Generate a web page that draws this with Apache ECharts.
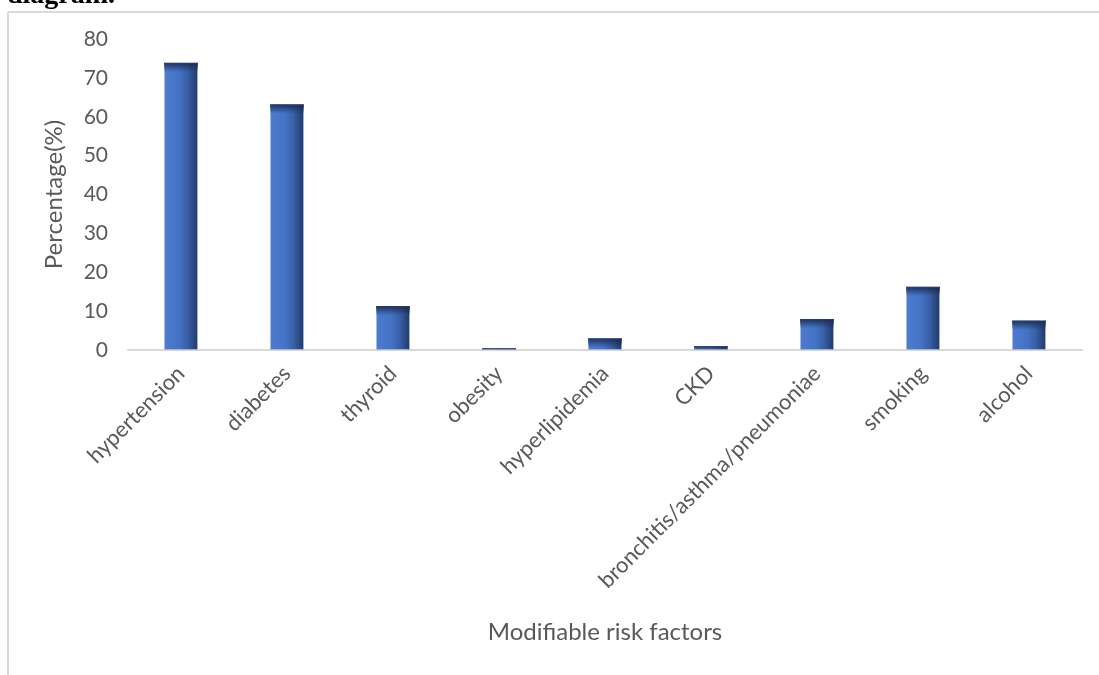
<!DOCTYPE html>
<html>
<head>
<meta charset="utf-8">
<script src="https://cdn.jsdelivr.net/npm/echarts@6/dist/echarts.min.js"></script>
<style>
  html, body { margin: 0; padding: 0; background: #fff; }
  #chart { width: 1099px; height: 675px; }
</style>
</head>
<body>
<div id="chart"></div>
<script>
// Modifiable risk factors and their prevalence (%)
const categories = ['hypertension', 'diabetes', 'thyroid', 'obesity', 'hyperlipidemia', 'CKD',
  'bronchitis/asthma/pneumoniae', 'smoking', 'alcohol'];
const percentages = [73.9, 63.2, 11.3, 0.5, 3.0, 1.0, 8.0, 16.3, 7.6];
const yTicks = { min: 0, max: 80, interval: 10 };

const FONT = 'Lato, "Open Sans", sans-serif';
const TEXT = '#595959';
const FRAME = '#d9d9d9';

// Body of each bar: blue shading toward a dark right edge
const bodyFill = new echarts.graphic.LinearGradient(0, 0, 1, 0, [
  { offset: 0, color: '#4d7cce' },
  { offset: 0.45, color: '#4472c4' },
  { offset: 0.7, color: '#395fa6' },
  { offset: 0.88, color: '#2a4780' },
  { offset: 1, color: '#1f3864' }
]);

// Dark bevel along the top of each bar, a few units deep
function topShade(v) {
  const s = Math.min(1, 2.4 / v);
  return new echarts.graphic.LinearGradient(0, 0, 0, 1, [
    { offset: 0, color: 'rgba(24,42,82,0.92)' },
    { offset: s, color: 'rgba(24,42,82,0)' },
    { offset: 1, color: 'rgba(24,42,82,0)' }
  ]);
}

const chart = echarts.init(document.getElementById('chart'), null, { renderer: 'canvas' });
chart.setOption({
  animation: false,
  backgroundColor: '#ffffff',
  graphic: [
    // document heading above the figure
    { type: 'text', left: 7, top: -18,
      style: { text: 'diagram.', font: 'bold 28px "Liberation Serif", "DejaVu Serif", serif', fill: '#000' } },
    // figure frame
    { type: 'line', shape: { x1: 8, y1: 12, x2: 1099, y2: 12 }, style: { stroke: FRAME, lineWidth: 2 } },
    { type: 'line', shape: { x1: 8, y1: 12, x2: 8, y2: 675 }, style: { stroke: FRAME, lineWidth: 2 } }
  ],
  grid: { left: 128, right: 17, top: 39, bottom: 325, containLabel: false },
  xAxis: {
    type: 'category',
    data: categories,
    name: 'Modifiable risk factors',
    nameLocation: 'middle',
    nameGap: 270,
    nameTextStyle: { color: TEXT, fontSize: 24, fontFamily: FONT },
    axisLine: { lineStyle: { color: FRAME, width: 2 } },
    axisTick: { show: false },
    axisLabel: { interval: 0, rotate: 45, color: TEXT, fontSize: 22, fontFamily: FONT, margin: 20 }
  },
  yAxis: {
    type: 'value',
    min: yTicks.min,
    max: yTicks.max,
    interval: yTicks.interval,
    name: 'Percentage(%)',
    nameLocation: 'middle',
    nameGap: 62,
    nameTextStyle: { color: TEXT, fontSize: 24, fontFamily: FONT },
    axisLine: { show: false },
    axisTick: { show: false },
    splitLine: { show: false },
    axisLabel: { color: TEXT, fontSize: 21, fontFamily: FONT, margin: 20 }
  },
  series: [
    {
      type: 'bar',
      data: percentages,
      barWidth: 34,
      itemStyle: { color: bodyFill, borderColor: 'rgba(160,185,225,0.8)', borderWidth: 1 }
    },
    {
      type: 'bar',
      silent: true,
      barGap: '-100%',
      barWidth: 34,
      data: percentages.map(v => ({ value: v, itemStyle: { color: topShade(v) } }))
    }
  ]
});
</script>
</body>
</html>
